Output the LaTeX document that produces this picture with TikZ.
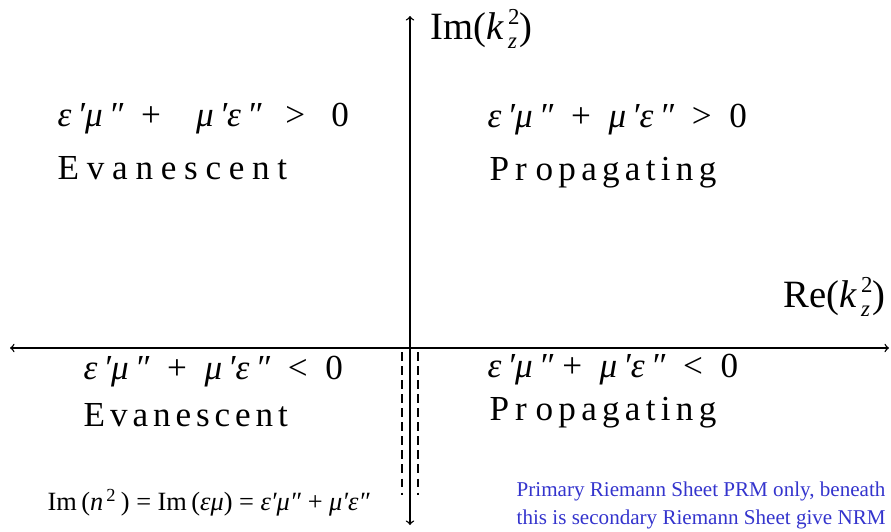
\documentclass[tikz,border=0pt]{standalone}
\usepackage{fontspec}
\setmainfont{Liberation Serif}
\definecolor{sheetblue}{RGB}{52,52,205}
\tikzset{
  region/.style={anchor=west, inner sep=0pt, font=\fontsize{20}{24}\selectfont},
  axislabel/.style={anchor=west, inner sep=0pt, font=\fontsize{22}{24}\selectfont},
  cut/.style={dashed, dash pattern=on 5pt off 3pt, line width=0.8pt}
}
\newcommand{\kzsq}{\textit{k}\rlap{\raisebox{-0.5ex}{\fontsize{13}{13}\selectfont\itshape \,z}}\raisebox{0.85ex}{\fontsize{13}{13}\selectfont\,2}}
\newcommand{\spaced}[1]{{\addfontfeature{LetterSpace=22}#1}}
\newcommand{\halfspaced}[1]{{\addfontfeature{LetterSpace=15}#1}}
\begin{document}
\begin{tikzpicture}[x=0.02cm, y=-0.02cm, >=to, line width=0.8pt]
  \useasboundingbox (0,0) rectangle (891,531);
  % Các điểm của hai trục
  \coordinate (L) at (10,348);
  \coordinate (R) at (889,348);
  \coordinate (T) at (410,16);
  \coordinate (B) at (410,525);
  % Hai đường nét đứt dưới trục thực
  \coordinate (C1) at (402,352);
  \coordinate (C2) at (402,495);
  \coordinate (C3) at (418,352);
  \coordinate (C4) at (418,495);
  % 1. Trục tọa độ
  \draw[<->] (L) -- (R);
  \draw[->] (T |- L) -- (T);
  \draw[->] (T |- L) -- (B);
  % 2. Nhát cắt
  \draw[cut] (C1) -- (C2);
  \draw[cut] (C3) -- (C4);
  % 3. Nhãn trục
  \node[axislabel] (imlab) at (430,29) {Im(\kzsq)};
  \node[axislabel, anchor=east] (relab) at (886,297) {Re(\kzsq)};
  % 4. Các miền
  \node[region] (ul) at (57,119) {\textit{ε}\,\textit{′μ}\,\textit{″} \ + \ \ \ \textit{μ}\,\textit{′ε}\,\textit{″} \ \,>\ \ \ 0};
  \node[region] (ulname) at (57,168) {\spaced{Evanescent}};
  \node[region] (ur) at (487,120) {\textit{ε}\,\textit{′μ}\,\textit{″} \ + \ \textit{μ}\,\textit{′ε}\,\textit{″} \ > \ 0};
  \node[region] (urname) at (489,173) {P\,r\ \halfspaced{opagating}};
  \node[region] (ll) at (83,372) {\textit{ε}\,\textit{′μ}\,\textit{″} \ + \ \textit{μ}\,\textit{′ε}\,\textit{″} \ <\ \ 0};
  \node[region] (llname) at (83,415) {{\addfontfeature{LetterSpace=14}Evanescent}};
  \node[region] (lr) at (487,370) {\textit{ε}\,\textit{′μ}\,\textit{″} + \ \textit{μ}\,\textit{′ε}\,\textit{″} \ <\ \ 0};
  \node[region] (lrname) at (489,413) {P\,r\ \halfspaced{opagating}};
  % 5. Chú thích
  \node[anchor=west, inner sep=0pt, font=\fontsize{15}{17}\selectfont] (imn) at (47,503)
    {Im\,(\textit{n}\textsuperscript{\,2}\,) = Im\,(\textit{εμ}) = \textit{ε′μ″} + \textit{μ′ε″}};
  \node[anchor=north west, inner sep=0pt, align=left, text=sheetblue,
        font=\fontsize{12}{16}\selectfont] (sheet) at (516,481)
    {Primary Riemann Sheet PRM only, beneath\\this is secondary Riemann Sheet give NRM};
\end{tikzpicture}
\end{document}
